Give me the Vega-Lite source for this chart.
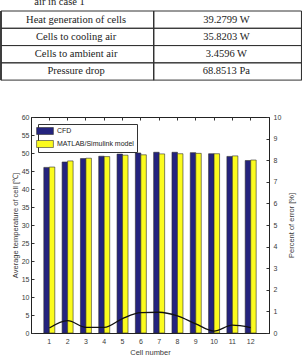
{
  "$schema": "https://vega.github.io/schema/vega-lite/v6.json",
  "background": "white",
  "padding": 0,
  "spacing": 31,
  "resolve": {"legend": {"color": "independent"}},
  "config": {
    "font": "Liberation Sans",
    "view": {"stroke": "#222", "strokeWidth": 1},
    "axis": {
      "labelFont": "Liberation Sans",
      "labelFontSize": 7,
      "labelColor": "#3a3a3a",
      "titleFont": "Liberation Sans",
      "titleFontSize": 7.5,
      "titleFontWeight": "normal",
      "titleColor": "#3a3a3a",
      "tickColor": "#333",
      "tickSize": -3,
      "domainColor": "#222",
      "grid": false
    }
  },
  "datasets": {
    "summary": [
      {"row": 1, "item": "Heat generation of cells", "value": "39.2799 W"},
      {"row": 2, "item": "Cells to cooling air", "value": "35.8203 W"},
      {"row": 3, "item": "Cells to ambient air", "value": "3.4596 W"},
      {"row": 4, "item": "Pressure drop", "value": "68.8513 Pa"}
    ],
    "temps": [
      {"cell": 1, "series": "CFD", "temp": 46.0},
      {"cell": 1, "series": "MATLAB/Simulink model", "temp": 46.1},
      {"cell": 2, "series": "CFD", "temp": 47.5},
      {"cell": 2, "series": "MATLAB/Simulink model", "temp": 47.8},
      {"cell": 3, "series": "CFD", "temp": 48.45},
      {"cell": 3, "series": "MATLAB/Simulink model", "temp": 48.55},
      {"cell": 4, "series": "CFD", "temp": 49.1},
      {"cell": 4, "series": "MATLAB/Simulink model", "temp": 49.0},
      {"cell": 5, "series": "CFD", "temp": 49.7},
      {"cell": 5, "series": "MATLAB/Simulink model", "temp": 49.4},
      {"cell": 6, "series": "CFD", "temp": 50.0},
      {"cell": 6, "series": "MATLAB/Simulink model", "temp": 49.5},
      {"cell": 7, "series": "CFD", "temp": 50.2},
      {"cell": 7, "series": "MATLAB/Simulink model", "temp": 49.75},
      {"cell": 8, "series": "CFD", "temp": 50.2},
      {"cell": 8, "series": "MATLAB/Simulink model", "temp": 49.8},
      {"cell": 9, "series": "CFD", "temp": 50.1},
      {"cell": 9, "series": "MATLAB/Simulink model", "temp": 49.9},
      {"cell": 10, "series": "CFD", "temp": 49.8},
      {"cell": 10, "series": "MATLAB/Simulink model", "temp": 49.8},
      {"cell": 11, "series": "CFD", "temp": 49.05},
      {"cell": 11, "series": "MATLAB/Simulink model", "temp": 49.2},
      {"cell": 12, "series": "CFD", "temp": 47.9},
      {"cell": 12, "series": "MATLAB/Simulink model", "temp": 48.05}
    ],
    "errors": [
      {"cell": 1, "error": 0.23},
      {"cell": 2, "error": 0.57},
      {"cell": 3, "error": 0.26},
      {"cell": 4, "error": 0.26},
      {"cell": 5, "error": 0.67},
      {"cell": 6, "error": 0.94},
      {"cell": 7, "error": 0.96},
      {"cell": 8, "error": 0.79},
      {"cell": 9, "error": 0.42},
      {"cell": 10, "error": 0.09},
      {"cell": 11, "error": 0.36},
      {"cell": 12, "error": 0.25}
    ]
  },
  "vconcat": [
    {
      "spacing": 0,
      "vconcat": [
        {
          "width": 238,
          "height": 9.3,
          "view": {"stroke": null},
          "data": {"values": [{"caption": "air in case 1"}]},
          "mark": {
            "type": "text",
            "clip": true,
            "font": "Liberation Serif",
            "fontSize": 10.5,
            "color": "#222",
            "align": "center",
            "baseline": "alphabetic"
          },
          "encoding": {
            "x": {"datum": 0.89, "type": "quantitative", "scale": {"domain": [0.6997, 2.2837], "nice": false, "zero": false}, "axis": null},
            "text": {"field": "caption"}
          }
        },
        {
          "width": 238,
          "height": 69.1,
          "view": {"stroke": null},
          "data": {"name": "summary"},
          "encoding": {
            "x": {"datum": 1, "type": "quantitative", "scale": {"domain": [0.6997, 2.2837], "nice": false, "zero": false}, "axis": null}
          },
          "layer": [
            {
              "mark": {"type": "rule", "color": "#333", "strokeWidth": 1},
              "encoding": {
                "x": {"datum": 0.5, "type": "quantitative"},
                "x2": {"datum": 2.5},
                "y": {"field": "row", "type": "ordinal", "bandPosition": 0, "scale": {"paddingInner": 0, "paddingOuter": 0}, "axis": null}
              }
            },
            {
              "mark": {"type": "rule", "color": "#333", "strokeWidth": 1},
              "encoding": {
                "x": {"datum": 0.5, "type": "quantitative"},
                "x2": {"datum": 2.5},
                "y": {"field": "row", "type": "ordinal", "bandPosition": 1}
              }
            },
            {
              "mark": {"type": "rule", "color": "#333", "strokeWidth": 1},
              "encoding": {"x": {"datum": 0.5, "type": "quantitative"}}
            },
            {
              "mark": {"type": "rule", "color": "#333", "strokeWidth": 1},
              "encoding": {"x": {"datum": 1.516, "type": "quantitative"}}
            },
            {
              "mark": {"type": "rule", "color": "#333", "strokeWidth": 1},
              "encoding": {"x": {"datum": 2.5, "type": "quantitative"}}
            },
            {
              "mark": {"type": "text", "font": "Liberation Serif", "fontSize": 10.5, "color": "#222", "baseline": "middle"},
              "encoding": {
                "x": {"datum": 1, "type": "quantitative"},
                "y": {"field": "row", "type": "ordinal"},
                "text": {"field": "item"}
              }
            },
            {
              "mark": {"type": "text", "font": "Liberation Serif", "fontSize": 10.5, "color": "#222", "baseline": "middle"},
              "encoding": {
                "x": {"datum": 2, "type": "quantitative"},
                "y": {"field": "row", "type": "ordinal"},
                "text": {"field": "value"}
              }
            }
          ]
        }
      ]
    },
    {
      "width": 238,
      "height": 216,
      "resolve": {"scale": {"y": "independent"}, "axis": {"x": "independent"}},
      "layer": [
        {
          "data": {"name": "temps"},
          "mark": {"type": "bar", "stroke": "#2e2e2e", "strokeWidth": 0.6},
          "encoding": {
            "x": {
              "field": "cell",
              "type": "ordinal",
              "scale": {"paddingInner": 0.4, "paddingOuter": 0.7},
              "axis": {"orient": "bottom", "title": "Cell number", "labelAngle": 0, "labelPadding": 7, "titlePadding": 4}
            },
            "xOffset": {
              "field": "series",
              "sort": ["CFD", "MATLAB/Simulink model"],
              "scale": {"paddingInner": 0, "paddingOuter": 0}
            },
            "y": {
              "field": "temp",
              "type": "quantitative",
              "scale": {"domain": [0, 60], "nice": false},
              "axis": {
                "orient": "left",
                "values": [0, 5, 10, 15, 20, 25, 30, 35, 40, 45, 50, 55, 60],
                "title": "Average temperature of cell [℃]",
                "labelPadding": 5,
                "titlePadding": 2
              }
            },
            "color": {
              "field": "series",
              "type": "nominal",
              "scale": {"domain": ["CFD", "MATLAB/Simulink model"], "range": ["#24237e", "#fbfb1e"]},
              "legend": {
                "orient": "none",
                "legendX": 7,
                "legendY": 7,
                "title": null,
                "fillColor": "white",
                "strokeColor": "#333",
                "padding": 3,
                "cornerRadius": 0,
                "symbolType": "M-2.4,-1H2.4V1H-2.4Z",
                "symbolSize": 49,
                "symbolStrokeColor": "#333",
                "symbolStrokeWidth": 0.6,
                "symbolOpacity": 1,
                "labelFont": "Liberation Sans",
                "labelFontSize": 7,
                "labelColor": "#222",
                "labelOffset": 8,
                "rowPadding": 3
              }
            }
          }
        },
        {
          "data": {"name": "errors"},
          "mark": {"type": "line", "color": "#111", "strokeWidth": 1.3, "interpolate": "monotone"},
          "encoding": {
            "x": {
              "field": "cell",
              "type": "ordinal",
              "axis": {"orient": "top", "labels": false, "title": null, "domain": false}
            },
            "y": {
              "field": "error",
              "type": "quantitative",
              "scale": {"domain": [0, 10], "nice": false},
              "axis": {
                "orient": "right",
                "values": [0, 1, 2, 3, 4, 5, 6, 7, 8, 9, 10],
                "title": "Percent of error [%]",
                "titleAngle": 270,
                "labelPadding": 7,
                "titlePadding": 15
              }
            }
          }
        }
      ]
    }
  ]
}
